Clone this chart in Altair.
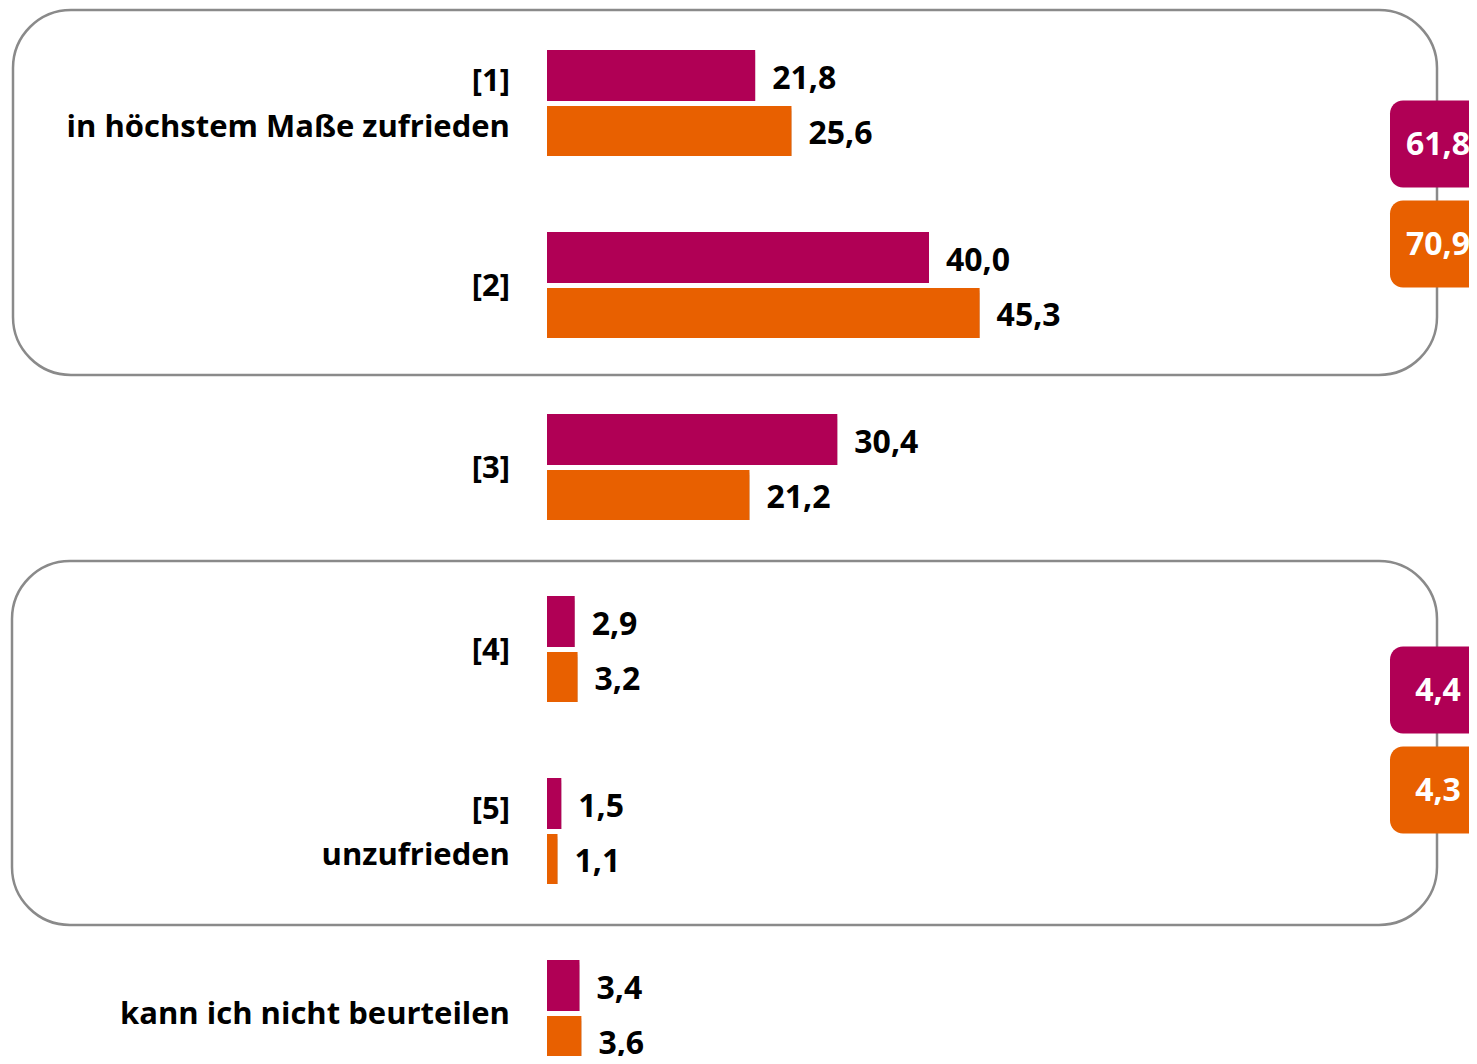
import altair as alt
import pandas as pd

# ---- data ----
categories = ["[1] in höchstem Maße zufrieden", "[2]", "[3]", "[4]", "[5] unzufrieden", "kann ich nicht beurteilen"]
label_lines = [["[1]", "in höchstem Maße zufrieden"], ["[2]"], ["[3]"], ["[4]"], ["[5]", "unzufrieden"], ["kann ich nicht beurteilen"]]
series_names = ["A", "B"]
values_a = [21.8, 40.0, 30.4, 2.9, 1.5, 3.4]
values_b = [25.6, 45.3, 21.2, 3.2, 1.1, 3.6]
group_rows = [[0, 1], [3, 4]]
totals_a = [61.8, 4.4]
totals_b = [70.9, 4.3]

# ---- style ----
MAGENTA = "#B00055"
ORANGE = "#E86000"
FONT = "Open Sans"
ROW_PX = 182.0
W, H = 1461, 1048

def de(v):
    return f"{v:.1f}".replace(".", ",")

rows = []
for i, c in enumerate(categories):
    for s, vals, top, bot in [("A", values_a, -53, -2), ("B", values_b, 3, 53)]:
        rows.append({"cat": c, "series": s, "row": i, "start": 0.0, "value": vals[i],
                     "y0": i + top / ROW_PX, "y1": i + bot / ROW_PX,
                     "yc": i + (top + bot) / 2 / ROW_PX + 3 / ROW_PX,
                     "label": de(vals[i])})
bars = pd.DataFrame(rows)

lab = []
for i, lines in enumerate(label_lines):
    if len(lines) == 1:
        lab.append({"row": i, "y": i + 2 / ROW_PX, "text": lines[0]})
    else:
        lab.append({"row": i, "y": i - 21 / ROW_PX, "text": lines[0]})
        lab.append({"row": i, "y": i + 25 / ROW_PX, "text": lines[1]})
labels = pd.DataFrame(lab)

bx = []
for g, (ta, tb) in enumerate(zip(totals_a, totals_b)):
    mid = sum(group_rows[g]) / 2
    for s, t, off in [("A", ta, -50), ("B", tb, 50)]:
        c = mid + off / ROW_PX
        bx.append({"series": s, "yc": c, "y0": c - 43.5 / ROW_PX, "y1": c + 43.5 / ROW_PX, "label": de(t)})
boxes = pd.DataFrame(bx)

xs = alt.Scale(domain=[0, 100], range=[539, 1494], nice=False, zero=False)
ys = alt.Scale(domain=[0, 5], range=[95, 1005], nice=False, zero=False)
color = alt.Color("series:N", scale=alt.Scale(domain=series_names, range=[MAGENTA, ORANGE]), legend=None)

frame1 = alt.Chart(pd.DataFrame({"k": [0]})).mark_rect(fill=None, stroke="#8A8A8A", strokeWidth=2.5, cornerRadius=58).encode(
    x=alt.value(5), x2=alt.value(1429), y=alt.value(2), y2=alt.value(367))
frame2 = alt.Chart(pd.DataFrame({"k": [0]})).mark_rect(fill=None, stroke="#8A8A8A", strokeWidth=2.5, cornerRadius=58).encode(
    x=alt.value(4), x2=alt.value(1429), y=alt.value(553), y2=alt.value(917))

base = alt.Chart(bars)
enc = dict(
    x=alt.X("start:Q", scale=xs, axis=None),
    x2=alt.X2("value:Q"),
    y=alt.Y("y0:Q", scale=ys, axis=None),
    y2=alt.Y2("y1:Q"),
)
shadow1 = base.mark_rect(color="#000000", opacity=0.12, xOffset=5, yOffset=5).encode(**enc)
shadow2 = base.mark_rect(color="#000000", opacity=0.18, xOffset=2.5, yOffset=2.5).encode(**enc)
barl = base.mark_rect().encode(color=color, **enc)

vlab = base.mark_text(align="left", baseline="middle", dx=17, font=FONT, fontWeight="bold", fontSize=32, color="#000000").encode(
    x=alt.X("value:Q", scale=xs, axis=None),
    y=alt.Y("yc:Q", scale=ys, axis=None),
    text="label:N",
)

clab = alt.Chart(labels).mark_text(align="right", baseline="middle", font=FONT, fontWeight="bold", fontSize=31, color="#000000").encode(
    x=alt.value(502),
    y=alt.Y("y:Q", scale=ys, axis=None),
    text="text:N",
)

boxr = alt.Chart(boxes).mark_rect(cornerRadius=13).encode(
    x=alt.value(1382), x2=alt.value(1520),
    y=alt.Y("y0:Q", scale=ys, axis=None), y2=alt.Y2("y1:Q"),
    color=color,
)
boxt = alt.Chart(boxes).mark_text(align="center", baseline="middle", font=FONT, fontWeight="bold", fontSize=32, color="white", dy=1).encode(
    x=alt.value(1430),
    y=alt.Y("yc:Q", scale=ys, axis=None),
    text="label:N",
)

chart = alt.layer(frame1, frame2, shadow1, shadow2, barl, vlab, clab, boxr, boxt).properties(
    width=W, height=H, padding=0, autosize=alt.AutoSizeParams(type="none"),
    background="white",
).configure_view(stroke=None)

chart.save("out.html", embed_options={"renderer": "svg", "actions": False})
